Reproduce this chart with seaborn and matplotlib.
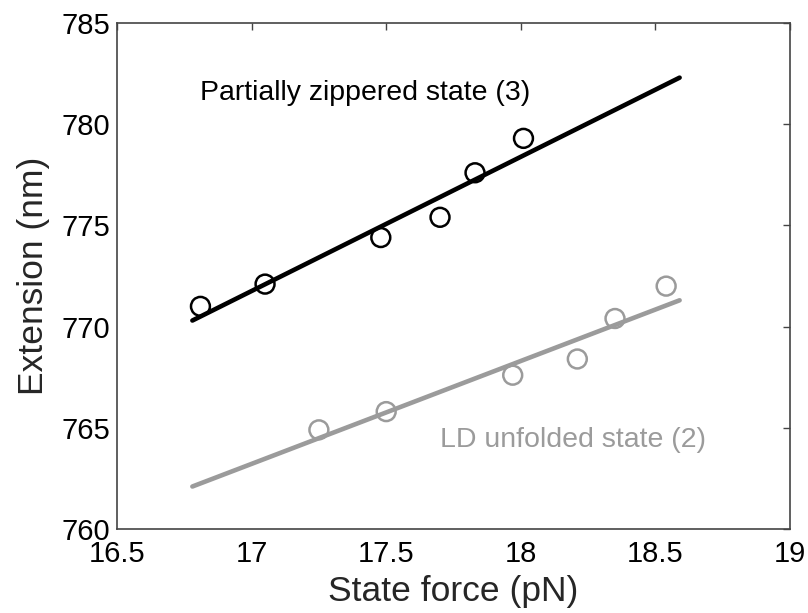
import matplotlib
matplotlib.use("Agg")
import matplotlib.pyplot as plt
import pandas as pd
import seaborn as sns

zip_force = [16.81, 17.05, 17.48, 17.70, 17.83, 18.01]
zip_ext = [771.0, 772.1, 774.4, 775.4, 777.6, 779.3]
ld_force = [17.25, 17.50, 17.97, 18.21, 18.35, 18.54]
ld_ext = [764.9, 765.8, 767.6, 768.4, 770.4, 772.0]

# Fitted lines (end points)
fit_force = [16.78, 18.59]
fit_zip = [770.3, 782.3]
fit_ld = [762.1, 771.3]

GRAY = "#9b9b9b"

sns.set_style("white")
plt.rcParams["font.family"] = ["Liberation Sans", "DejaVu Sans"]

fig = plt.figure(figsize=(8.08, 6.13), dpi=100)
ax = fig.add_axes([0.1448, 0.137, 0.8329, 0.8255])

fits = pd.DataFrame({"force": fit_force, "zip": fit_zip, "ld": fit_ld})
sns.lineplot(data=fits, x="force", y="zip", ax=ax, color="black", linewidth=3.3)
sns.lineplot(data=fits, x="force", y="ld", ax=ax, color=GRAY, linewidth=3.3)

ax.scatter(zip_force, zip_ext, s=185, facecolors="none", edgecolors="black",
           linewidths=1.8, zorder=3)
ax.scatter(ld_force, ld_ext, s=185, facecolors="none", edgecolors=GRAY,
           linewidths=1.8, zorder=3)

ax.text(16.81, 781.55, "Partially zippered state (3)", fontsize=20.5,
        color="black", va="center")
ax.text(17.70, 764.4, "LD unfolded state (2)", fontsize=20.5,
        color=GRAY, va="center")

ax.set_xlim(16.5, 19)
ax.set_ylim(760, 785)
ax.set_xticks([16.5, 17, 17.5, 18, 18.5, 19])
ax.set_xticklabels(["16.5", "17", "17.5", "18", "18.5", "19"])
ax.set_yticks([760, 765, 770, 775, 780, 785])
ax.tick_params(direction="in", length=5, width=1, colors="#444444",
               labelcolor="black", labelsize=21, top=True, right=True)
ax.tick_params(axis="x", pad=8)
ax.tick_params(axis="y", pad=5)
for s in ax.spines.values():
    s.set_color("#444444")
    s.set_linewidth(1.2)

ax.set_xlabel("State force (pN)", fontsize=25.5, labelpad=5)
ax.set_ylabel("Extension (nm)", fontsize=25.5, labelpad=8)

fig.savefig("out.png", dpi=100)
